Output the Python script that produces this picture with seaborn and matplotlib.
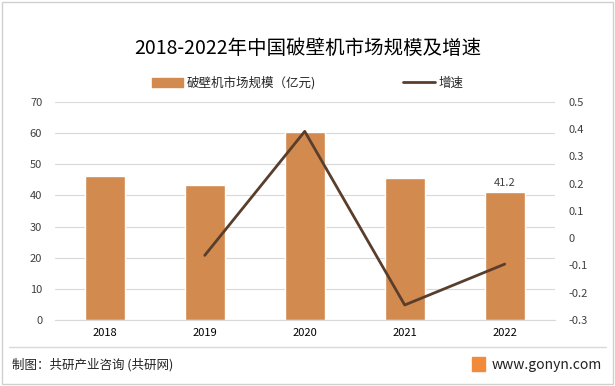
import pandas as pd
import numpy as np
import matplotlib
matplotlib.use("Agg")
import matplotlib.pyplot as plt
import seaborn as sns
from matplotlib.patches import Rectangle
from matplotlib.lines import Line2D

years = ["2018", "2019", "2020", "2021", "2022"]
market_size = [46.1, 43.2, 60.3, 45.5, 41.2]
growth = [np.nan, -0.063, 0.392, -0.245, -0.095]

bar_color = "#D38A4E"
line_color = "#5A3E2C"

sns.set_style("white")
plt.rcParams['font.family'] = ['Noto Sans CJK SC', 'DejaVu Sans']

df = pd.DataFrame({"year": years, "size": market_size, "growth": growth})
df["pos"] = range(len(df))

fig = plt.figure(figsize=(6.15, 3.86), dpi=100)
ax = fig.add_axes([0.089, 0.171, 0.813, 0.565])

sns.barplot(x="year", y="size", data=df, color=bar_color, width=0.4,
            saturation=1, ax=ax, zorder=2)
ax.set_ylim(0, 70)
ax.set_yticks(range(0, 71, 10))
ax.set_xlim(-0.5, 4.5)
ax.grid(axis="y", color="#D9D9D9", linewidth=0.8, zorder=0)
ax.set_xlabel("")
ax.set_ylabel("")
for s in ax.spines.values():
    s.set_visible(False)
ax.spines["bottom"].set_visible(True)
ax.spines["bottom"].set_color("#D9D9D9")
ax.tick_params(axis="both", length=0, labelsize=8, colors="#404040")
ax.tick_params(axis="y", pad=9)
ax.tick_params(axis="x", pad=6)
for t in ax.get_xticklabels():
    t.set_color("#000000")

# data label on the last bar
ax.text(4, market_size[-1] + 1.2, f"{market_size[-1]}", ha="center",
        va="bottom", fontsize=8, color="#404040")

ax2 = ax.twinx()
sns.lineplot(x="pos", y="growth", data=df, color=line_color, linewidth=2,
             ax=ax2)
ax2.set_ylim(-0.3, 0.5)
ax2.set_yticks([-0.3, -0.2, -0.1, 0, 0.1, 0.2, 0.3, 0.4, 0.5])
ax2.set_yticklabels(["-0.3", "-0.2", "-0.1", "0", "0.1", "0.2", "0.3", "0.4", "0.5"])
ax2.set_xlim(-0.5, 4.5)
ax2.set_xlabel("")
ax2.set_ylabel("")
for s in ax2.spines.values():
    s.set_visible(False)
ax2.tick_params(axis="y", length=0, labelsize=8, colors="#404040", pad=10)

# title
fig.text(0.5, 0.875, "2018-2022年中国破壁机市场规模及增速", ha="center",
         va="center", fontsize=14, color="#000000")

# legend
handles = [Rectangle((0, 0), 1, 1, color=bar_color),
           Line2D([0], [0], color=line_color, linewidth=2)]
fig.legend(handles, ["破壁机市场规模（亿元)", "增速"], loc="center",
           bbox_to_anchor=(0.5, 0.785), ncol=2, frameon=False, fontsize=9,
           handlelength=2.5, columnspacing=7, handletextpad=0.3)

# footer
fig.add_artist(Line2D([0.015, 0.985], [0.10, 0.10], color="#D9D9D9",
                      linewidth=1, transform=fig.transFigure))
fig.text(0.02, 0.055, "制图：共研产业咨询 (共研网)", ha="left", va="center",
         fontsize=9, color="#222222")
fig.text(0.978, 0.055, "www.gonyn.com", ha="right", va="center",
         fontsize=10, color="#222222")
fig.add_artist(Rectangle((0.768, 0.04), 0.02, 0.035, color="#F28A3C",
                         transform=fig.transFigure))

# outer border
fig.add_artist(Rectangle((0.004, 0.006), 0.992, 0.988, fill=False,
                         edgecolor="#D0D0D0", linewidth=1,
                         transform=fig.transFigure))

fig.savefig("out.png", dpi=100)
